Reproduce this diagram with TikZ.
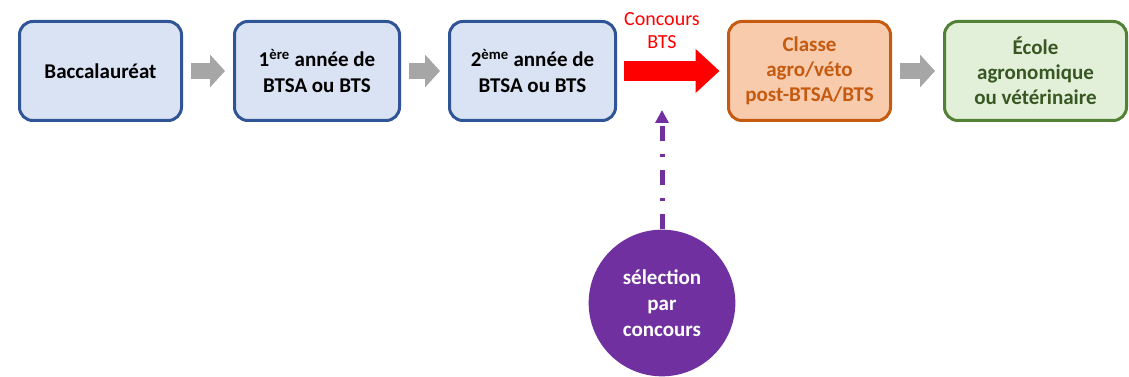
\documentclass[tikz,border=0pt]{standalone}
\usepackage{fontspec}
\setmainfont{Carlito}
\usetikzlibrary{arrows.meta}
\usetikzlibrary{positioning}

\definecolor{bleufond}{HTML}{DAE3F3}
\definecolor{bleubord}{HTML}{2F5597}
\definecolor{orangefond}{HTML}{F8CBAD}
\definecolor{orangebord}{HTML}{C55A11}
\definecolor{vertfond}{HTML}{E2F0D9}
\definecolor{vertbord}{HTML}{538135}
\definecolor{verttexte}{HTML}{385723}
\definecolor{gris}{HTML}{A6A6A6}
\definecolor{rouge}{HTML}{FF0000}
\definecolor{violet}{HTML}{7030A0}

\begin{document}
\begin{tikzpicture}[x=0.75pt,y=-0.75pt,
	etape/.style={rectangle,rounded corners=10pt,draw=bleubord,fill=bleufond,line width=2.25pt,minimum height=74.25pt,align=center,font=\bfseries\fontsize{15.75}{19.5}\selectfont},
	fleche grise/.style={draw=gris,line width=12pt,-{Triangle[length=11.25pt,width=24pt]},shorten <=6pt,shorten >=6pt},
	fleche rouge/.style={draw=rouge,line width=15pt,-{Triangle[length=18pt,width=32pt]},shorten <=5.6pt,shorten >=5.6pt},
	fleche tirets/.style={draw=violet,line width=3.75pt,dash pattern=on 11.25pt off 9.75pt on 2.25pt off 9.75pt,-{Triangle[length=9.75pt,width=9.75pt]}}]
		
		\useasboundingbox (0,0) rectangle (1129,377);
		
		\node[etape,minimum width=121.5pt] at (100.5,71) (bac) {Baccalauréat};
		\node[etape,minimum width=123.75pt] at (317,71) (annee1) {1\textsuperscript{ère} année de\\BTSA ou BTS};
		\node[etape,minimum width=124.5pt] at (532.5,71) (annee2) {2\textsuperscript{ème} année de\\BTSA ou BTS};
		\node[etape,minimum width=121.5pt,draw=orangebord,fill=orangefond,text=orangebord,font=\bfseries\fontsize{15.75}{18.75}\selectfont] at (809.5,71) (classe) {Classe\\agro/véto\\post-BTSA/BTS};
		\node[etape,minimum width=136.5pt,draw=vertbord,fill=vertfond,text=verttexte,font=\bfseries\fontsize{15.75}{18.75}\selectfont] at (1035.5,71) (ecole) {École\\agronomique\\ou vétérinaire};
		
		\node[text=rouge,align=center,font=\fontsize{15}{17.25}\selectfont] at (662,31) (concours) {Concours\\BTS};
		
		\node[circle,fill=violet,text=white,align=center,minimum size=110pt,inner sep=0pt,font=\bfseries\fontsize{15.75}{19.5}\selectfont] at (662,303) (selection) {sélection\\par\\concours};
		\coordinate (cible) at (662,110);
		
		\path
		(bac) edge[fleche grise] (annee1)
		(annee1) edge[fleche grise] (annee2)
		(annee2) edge[fleche rouge] (classe)
		(classe) edge[fleche grise] (ecole)
		(selection) edge[fleche tirets] (cible)
		;
		
\end{tikzpicture}
\end{document}
